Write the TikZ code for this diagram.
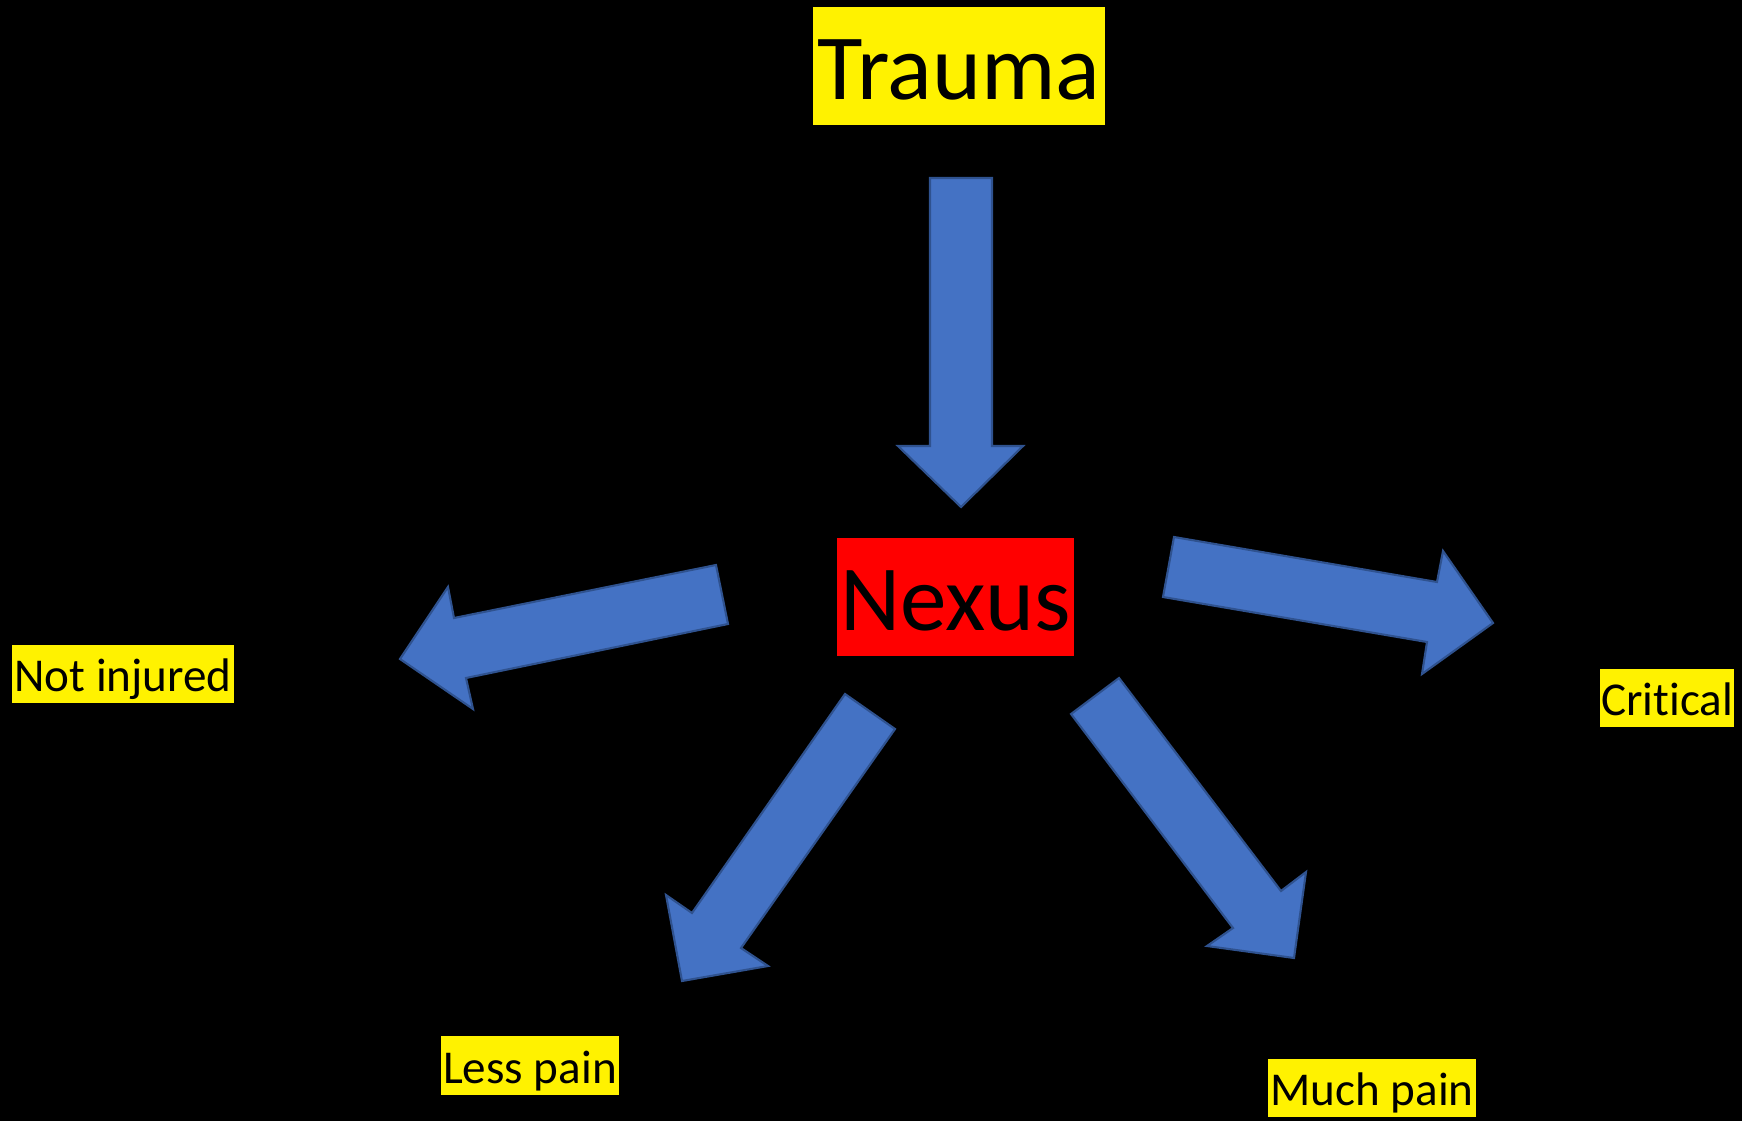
\documentclass[tikz,border=0pt]{standalone}
\usepackage{fontspec}
\setmainfont[Ligatures=NoCommon]{Carlito}
\usepackage{tikz}

\definecolor{pfeilblau}{HTML}{4472C4}
\definecolor{pfeilrand}{HTML}{2F528F}

\begin{document}
\begin{tikzpicture}[x=0.01cm, y=-0.01cm,
   gross/.style={inner sep=0pt, font=\fontsize{26.5}{30}\selectfont,
      text height=24pt, text depth=5pt},
   klein/.style={fill=yellow, inner sep=0pt, font=\fontsize{13.4}{16}\selectfont,
      text height=12pt, text depth=2pt, minimum height=0.58cm},
   pfeil/.style={fill=pfeilblau, draw=pfeilrand, line width=0.6pt, line join=miter}]
   %% Hintergrund
   \fill[black] (0,0) rectangle (1742,1121);

   %% Kaesten
   \node[gross, fill=yellow, minimum width=2.92cm, minimum height=1.18cm] (trauma) at (959,66) {Trauma};
   \node[gross, fill=red, minimum width=2.37cm, minimum height=1.18cm] (nexus) at (955.5,597) {Nexus};
   \node[klein, minimum width=2.22cm] (notinjured) at (123,674) {Not injured};
   \node[klein, minimum width=1.34cm] (critical) at (1667,698) {Critical};
   \node[klein, minimum width=1.78cm] (lesspain) at (530,1065.5) {Less pain};
   \node[klein, minimum width=2.08cm] (muchpain) at (1372,1088) {Much pain};

   %% Pfeile
   \draw[pfeil] (930,178) -- (992,178) -- (992,446) -- (1023,446) -- (961,507) -- (898,446) -- (930,446) -- cycle;
   \draw[pfeil] (716,565) -- (728,624) -- (466,678) -- (473,709) -- (400,659) -- (448,587) -- (454,618) -- cycle;
   \draw[pfeil] (1174,537) -- (1437,582) -- (1443,551) -- (1493,623) -- (1422,674) -- (1427,642) -- (1163,597) -- cycle;
   \draw[pfeil] (845,694) -- (895,729) -- (741,948) -- (768,966) -- (682,981) -- (666,895) -- (692,913) -- cycle;
   \draw[pfeil] (1071,714) -- (1119,678) -- (1281,891) -- (1306,872) -- (1294,958) -- (1207,946) -- (1233,928) -- cycle;
\end{tikzpicture}
\end{document}
